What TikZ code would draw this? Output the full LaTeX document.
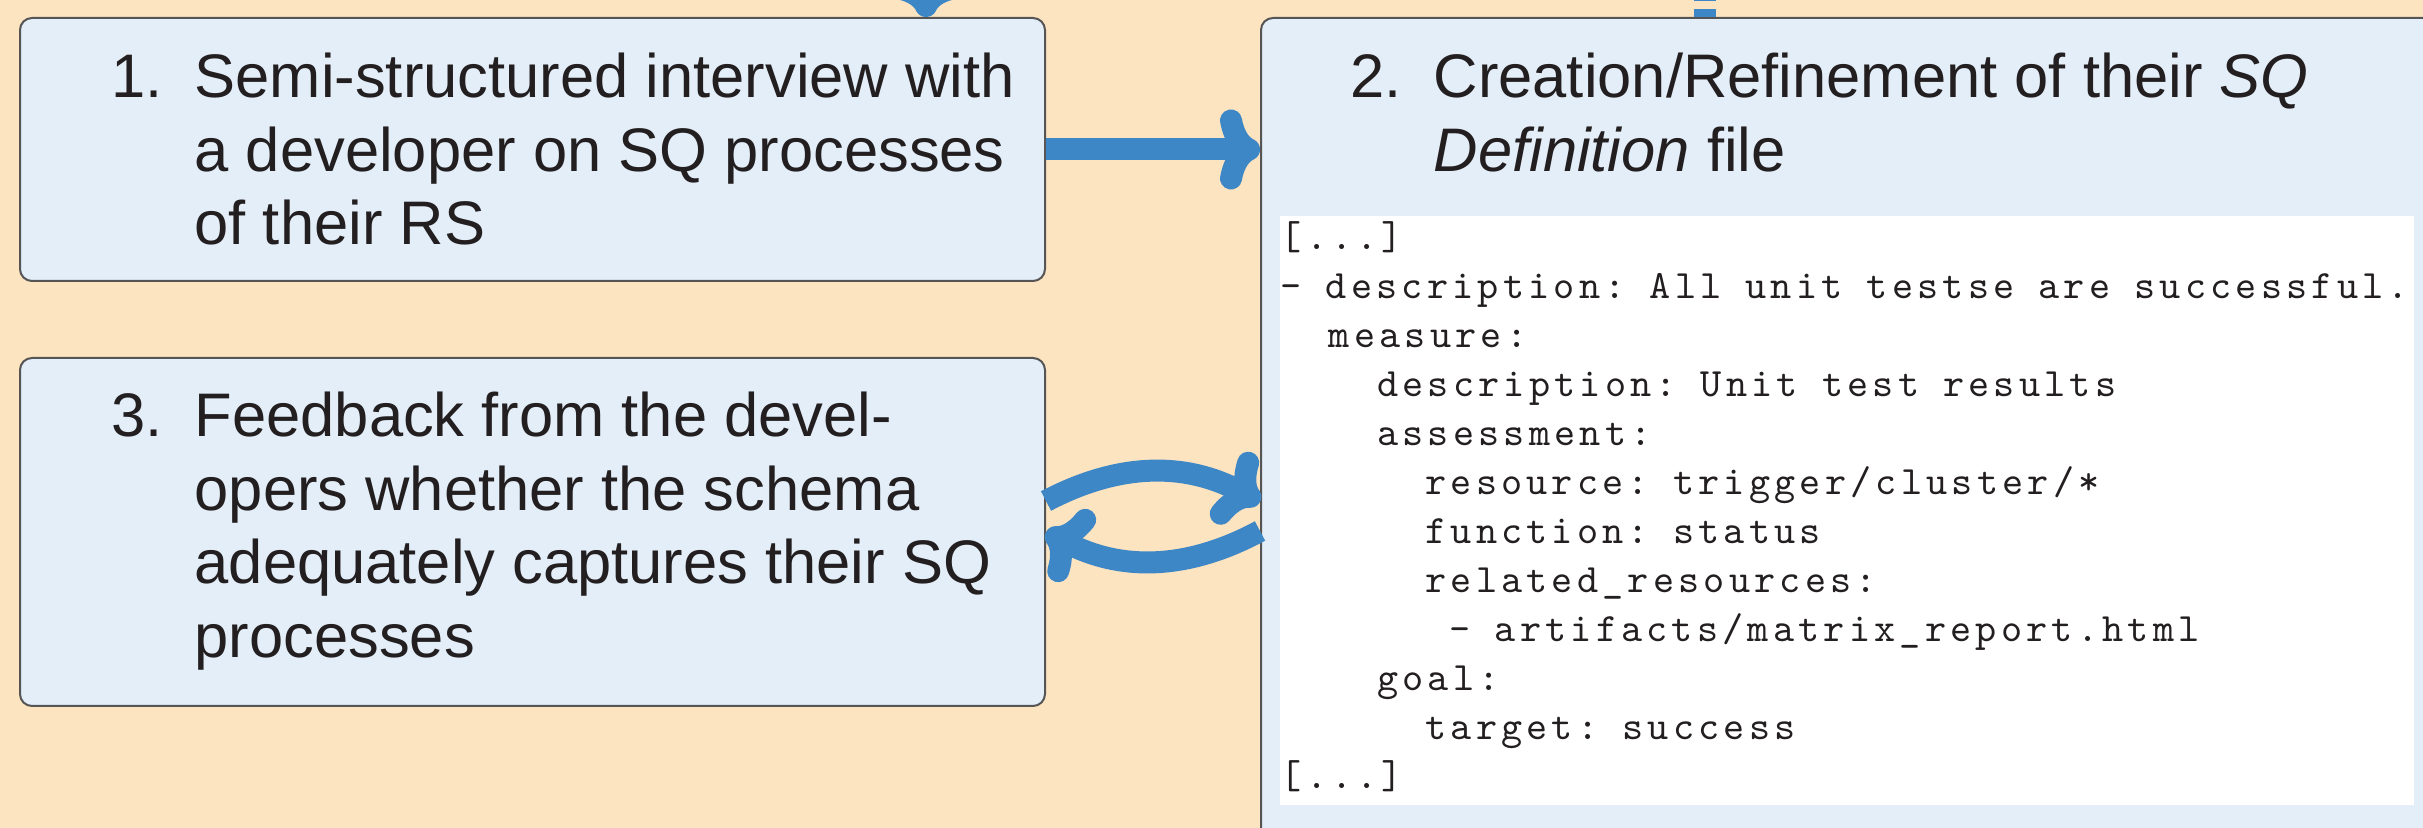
\documentclass[tikz,border=0pt]{standalone}
\usepackage{fontspec}
\setmainfont{Liberation Sans}
\newfontfamily\codefont{lmmono10-regular.otf}[LetterSpace=10.5]
\usetikzlibrary{arrows.meta,fit,calc}
\definecolor{bgpeach}{HTML}{FDE4C1}
\definecolor{boxblue}{HTML}{E4EEF8}
\definecolor{arrowblue}{HTML}{3D87C7}
\definecolor{txt}{HTML}{231F20}
\definecolor{bordergray}{HTML}{555555}
\newdimen\codecol
\codecol=7.236pt
\newcommand\spc{\hspace*{\codecol}}
\newcommand\ind[1]{\hspace*{#1\codecol}}
\begin{document}
\begin{tikzpicture}[x=0.3pt,y=-0.3pt,
  box/.style={draw=bordergray, line width=0.6pt, fill=boxblue, rounded corners=3.6pt, inner sep=0pt},
  body/.style={inner sep=0pt, anchor=base west, text=txt, font=\fontsize{18.45pt}{22.05pt}\selectfont},
  lbl/.style={inner sep=0pt, anchor=base east, text=txt, font=\fontsize{18.45pt}{22.05pt}\selectfont},
  codetxt/.style={inner sep=0pt, anchor=base west, text=txt, font=\fontsize{12.06pt}{14.7pt}\selectfont\codefont},
  arr/.style={draw=arrowblue, line width=6.6pt, -{Computer Modern Rightarrow[length=12pt,width=24pt]}},
  dashline/.style={draw=arrowblue, line width=6.6pt, dash pattern=on 2.49pt off 2.19pt}
]
\clip (0,0) rectangle (2423,828);
\fill[bgpeach] (0,0) rectangle (2423,828);

\node[box, fit={(20,18) (1045,281)}] (b1) {};
\node[box, fit={(20,358) (1045,706)}] (b3) {};
\node[box, fit={(1261,18) (2470,880)}] (b2) {};
\node[fill=white, inner sep=0pt, fit={(1280,216) (2414,805)}] (code) {};

% box 1 text
\node[lbl] (l1) at (163,98) {1.};
\node[body] (t1) at (194,98) {\begin{tabular}[t]{@{}l@{}}Semi-structured interview with\\ a developer on SQ processes\\ of their RS\end{tabular}};

% box 3 text
\node[lbl] (l3) at (163,437) {3.};
\node[body] (t3) at (194,437) {\begin{tabular}[t]{@{}l@{}}Feedback from the devel-\\ opers whether the schema\\ adequately captures their SQ\\ processes\end{tabular}};

% box 2 title
\node[lbl] (l2) at (1402,98) {2.};
\node[body] (t2) at (1433,98) {\begin{tabular}[t]{@{}l@{}}Creation/Refinement of their \textit{SQ}\\ \textit{Definition} file\end{tabular}};

% code
\node[codetxt] (codetext) at (1280,250) {\begin{tabular}[t]{@{}l@{}}
[...]\\
-\spc description:\spc All\spc unit\spc testse\spc are\spc successful.\\
\ind{2}measure:\\
\ind{4}description:\spc Unit\spc test\spc results\\
\ind{4}assessment:\\
\ind{6}resource:\spc trigger/cluster/*\\
\ind{6}function:\spc status\\
\ind{6}related\_resources:\\
\ind{7}-\spc artifacts/matrix\_report.html\\
\ind{4}goal:\\
\ind{6}target:\spc success\\
{}[...]
\end{tabular}};

% connectors
\draw[arr] (b1.east) -- (b1.east -| b2.west);
\draw[arr] ($(b3.east)+(0,-31)$) to[bend left=28] ($(b3.east -| b2.west)+(0,-30)$);
\draw[arr] ($(b3.east -| b2.west)+(0,-1)$) to[bend left=28] (b3.east);
\coordinate (top1) at (926,-60);
\draw[arr] (top1) -- (top1 |- b1.north);
\coordinate (top2) at (1705,-60);
\draw[dashline] (top2 |- b2.north) -- (top2);
\end{tikzpicture}
\end{document}
